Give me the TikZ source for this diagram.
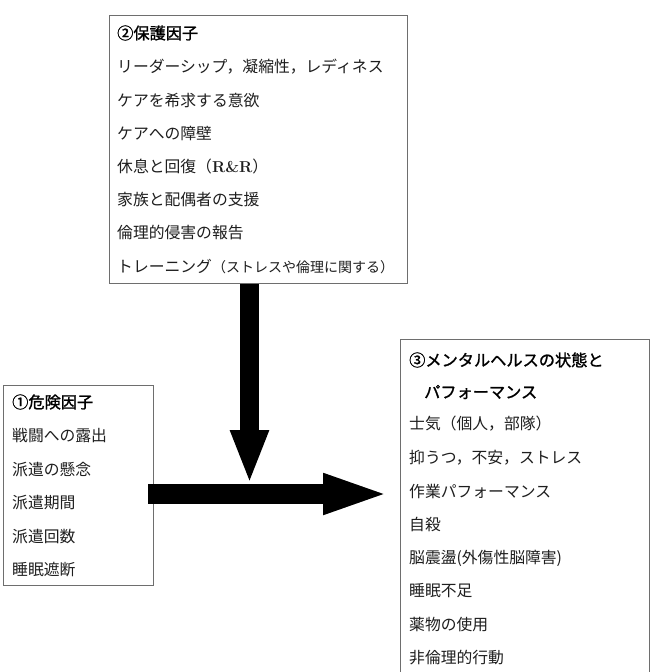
\documentclass[tikz,border=0pt]{standalone}
\usepackage{fontspec}
\newfontfamily\jp{Noto Sans CJK JP}
\newfontfamily\jph[FakeBold=1.3]{Noto Sans CJK JP}
\usetikzlibrary{arrows.meta}
\definecolor{boxgray}{RGB}{110,110,110}
\definecolor{txtcol}{RGB}{30,30,30}
\begin{document}
\begin{tikzpicture}[x=1pt,y=-1pt,
  box/.style={draw=boxgray, line width=0.9pt, inner sep=0pt, anchor=north west},
  txt/.style={anchor=west, inner sep=0pt, text=txtcol, font=\jp\fontsize{15.8}{18}\selectfont},
  hdr/.style={anchor=west, inner sep=0pt, text=black, font=\jph\fontsize{16.2}{18}\selectfont},
  vbig/.style={line width=19pt, -{Triangle[width=35pt,length=54pt]}},
  hbig/.style={line width=20pt, -{Triangle[width=36pt,length=68pt]}}
]
\clip (0,0) rectangle (654,672);
\fill[white] (0,0) rectangle (654,672);
% boxes
\node[box, minimum width=298pt, minimum height=268pt] (b2) at (109,15) {};
\node[box, minimum width=150pt, minimum height=200pt] (b1) at (3,385) {};
\node[box, minimum width=249pt, minimum height=360pt] (b3) at (400,339) {};
% box 2 text
\node[hdr] (t20) at (117,33) {②保護因子};
\node[txt] (t21) at (117,67) {リーダーシップ，凝縮性，レディネス};
\node[txt] (t22) at (117,100) {ケアを希求する意欲};
\node[txt] (t23) at (117,133) {ケアへの障壁};
\node[txt] (t24) at (117,166) {休息と回復（{\normalfont\bfseries R\&R}）};
\node[txt] (t25) at (117,200) {家族と配偶者の支援};
\node[txt] (t26) at (117,233) {倫理的侵害の報告};
\node[txt] (t27) at (117,267) {トレーニング{\fontsize{14}{16}\selectfont （ストレスや倫理に関する）}};
% box 1 text
\node[hdr] (t10) at (12,402) {①危険因子};
\node[txt] (t11) at (12,436) {戦闘への露出};
\node[txt] (t12) at (12,470) {派遣の懸念};
\node[txt] (t13) at (12,503) {派遣期間};
\node[txt] (t14) at (12,537) {派遣回数};
\node[txt] (t15) at (12,570) {睡眠遮断};
% box 3 text
\node[hdr] (t30) at (409,360) {③メンタルヘルスの状態と};
\node[hdr] (t30b) at (424,392) {パフォーマンス};
\node[txt] (t31) at (409,424) {士気（個人，部隊）};
\node[txt] (t32) at (409,458) {抑うつ，不安，ストレス};
\node[txt] (t33) at (409,491) {作業パフォーマンス};
\node[txt] (t34) at (409,524) {自殺};
\node[txt] (t35) at (409,558) {脳震盪(外傷性脳障害)};
\node[txt] (t36) at (409,591) {睡眠不足};
\node[txt] (t37) at (409,625) {薬物の使用};
\node[txt] (t38) at (409,658) {非倫理的行動};
% arrows
\coordinate (vtip) at (249.5,484);
\coordinate (vstart) at (b2.south -| vtip);
\coordinate (hstart) at (148,494);
\coordinate (htip) at (391,494);
\draw[vbig] (vstart) -- (vtip);
\draw[hbig, black!35, shift={(1.5,1.5)}] (hstart) -- (htip);
\draw[hbig] (hstart) -- (htip);
\end{tikzpicture}
\end{document}
